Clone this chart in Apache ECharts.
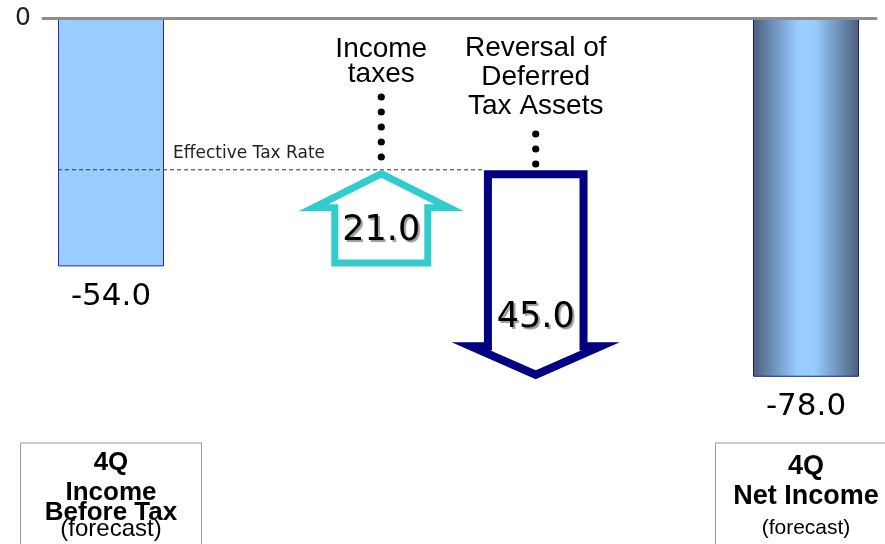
<!DOCTYPE html>
<html><head><meta charset="utf-8">
<script src="https://cdn.jsdelivr.net/npm/echarts@6/dist/echarts.min.js"></script>
<style>html,body{margin:0;padding:0;background:#fff}#chart{width:885px;height:544px}</style>
</head><body><div id="chart"></div>
<script>
// ---------------- data ----------------
const categories = ['4Q Income Before Tax', 'Income taxes', 'Reversal of Deferred Tax Assets', '4Q Net Income'];
const totalValues = [-54.0, -78.0];          // 4Q income before tax, 4Q net income
const stepValues = [21.0, -45.0];            // income taxes, reversal of deferred tax assets
const boxTitles = ['4Q\nIncome\nBefore Tax', '4Q\nNet Income'];
const boxNotes = ['(forecast)', '(forecast)'];
const stepTitles = ['Income\ntaxes', 'Reversal of\nDeferred\nTax Assets'];
const refLineName = 'Effective Tax Rate';
const yTickLabels = ['0'];

// ---------------- layout / style ----------------
const SLOT_COUNT = 19;
const SLOTS = [0, 7, 11, 18];
const Y_MIN = -92.4;
const BAR_W = 106;
const WORD_FONT = '"Liberation Sans", Arial, sans-serif';
const NUM_FONT = '"DejaVu Sans", Verdana, sans-serif';

const xData = Array.from({length: SLOT_COUNT}, () => '');
categories.forEach((c, i) => { xData[SLOTS[i]] = c; });

let running = totalValues[0];
const stepData = stepValues.map((v, i) => {
  const s = running; running += v;
  return [SLOTS[i + 1], s, running, v, i];
});
const refLevel = totalValues[0] + stepValues[0];

const barGradient = new echarts.graphic.LinearGradient(0, 0, 1, 0, [
  {offset: 0, color: '#4a5f7c'}, {offset: 0.42, color: '#99ccff'},
  {offset: 0.58, color: '#99ccff'}, {offset: 1, color: '#4a5f7c'}
]);
const barData = [
  {value: [SLOTS[0], totalValues[0]], itemStyle: {color: '#99CCFF', borderColor: '#2a2aa8', borderWidth: 1}},
  {value: [SLOTS[3], totalValues[1]], itemStyle: {color: barGradient, borderColor: '#1c1c80', borderWidth: 1}}
];

const boxRich = {
  a0: {fontFamily: WORD_FONT, fontWeight: 'bold', fontSize: 26, lineHeight: 40, color: '#000'},
  a1: {fontFamily: WORD_FONT, fontWeight: 'bold', fontSize: 26, lineHeight: 20, color: '#000'},
  a2: {fontFamily: WORD_FONT, fontWeight: 'bold', fontSize: 26, lineHeight: 20, color: '#000'},
  an: {fontFamily: WORD_FONT, fontSize: 24, lineHeight: 12, color: '#000'},
  b0: {fontFamily: WORD_FONT, fontWeight: 'bold', fontSize: 27, lineHeight: 48, color: '#000'},
  b1: {fontFamily: WORD_FONT, fontWeight: 'bold', fontSize: 27, lineHeight: 12, color: '#000'},
  bn: {fontFamily: WORD_FONT, fontSize: 21, lineHeight: 50, color: '#000'}
};

function boxFormatter(value, index) {
  const k = index === SLOTS[0] ? 0 : (index === SLOTS[3] ? 1 : -1);
  if (k < 0) return '';
  const p = k === 0 ? 'a' : 'b';
  const lines = boxTitles[k].split('\n').map((t, j) => '{' + p + Math.min(j, k === 0 ? 2 : 1) + '|' + t + '}');
  lines.push('{' + p + 'n|' + boxNotes[k] + '}');
  return lines.join('\n');
}

function renderStep(params, api) {
  const slot = api.value(0), start = api.value(1), end = api.value(2), v = api.value(3), idx = api.value(4);
  const p0 = api.coord([slot, start]);
  const p1 = api.coord([slot, end]);
  const y0 = api.coord([slot, 0])[1];
  const cx = p0[0], ys = p0[1], ye = p1[1];
  const up = end > start;
  const children = [];
  let pts, color, sw, arrowTop, numY;
  if (up) {
    color = '#33CCCC'; sw = 7;
    const tipY = ye + 4, baseY = ye + 38, botY = ys - 3.5, hs = 46.5, hh = 68;
    pts = [[cx - hs, botY], [cx + hs, botY], [cx + hs, baseY], [cx + hh, baseY], [cx, tipY],
           [cx - hh, baseY], [cx - hs, baseY]];
    arrowTop = ye;
    numY = ys - 35;
  } else {
    color = '#000080'; sw = 8;
    const topY = ys + 4.5, baseY = ye - 30.5, tipY = ye - 2, hs = 47.8, hh = 65;
    pts = [[cx - hs, topY], [cx + hs, topY], [cx + hs, baseY], [cx + hh, baseY], [cx, tipY],
           [cx - hh, baseY], [cx - hs, baseY]];
    arrowTop = ys;
    numY = ye - 59;
  }
  children.push({type: 'polygon', shape: {points: pts},
    style: {fill: '#fff', stroke: color, lineWidth: sw, lineJoin: 'miter', miterLimit: 10}});
  children.push({type: 'text', style: {
    text: Math.abs(v).toFixed(1), x: cx, y: numY, align: 'center', verticalAlign: 'middle',
    fontFamily: NUM_FONT, fontSize: 35, fill: '#000',
    textShadowColor: '#9a9a9a', textShadowOffsetX: 2, textShadowOffsetY: 2, textShadowBlur: 1}});
  const title = stepTitles[idx];
  const nLines = title.split('\n').length;
  const lh = up ? 25 : 29;
  const blockTop = y0 + 16;
  children.push({type: 'text', style: {
    text: title, x: cx, y: blockTop + (up ? 3 : 0), align: 'center', verticalAlign: 'top',
    fontFamily: WORD_FONT, fontSize: 28, lineHeight: lh, fill: '#000'}});
  for (let y = blockTop + nLines * lh + 13; y <= arrowTop - 5; y += 15) {
    children.push({type: 'circle', shape: {cx: cx, cy: y, r: 3.6}, style: {fill: '#000'}});
  }
  return {type: 'group', children: children};
}

function renderRef(params, api) {
  const a = api.coord([api.value(0), api.value(2)]);
  const b = api.coord([api.value(1), api.value(2)]);
  const x1 = a[0] - BAR_W / 2, x2 = b[0] - 51.8;
  return {type: 'group', children: [
    {type: 'line', shape: {x1: x1, y1: a[1], x2: x2, y2: a[1]},
     style: {stroke: '#333', lineWidth: 1, lineDash: [4, 3]}},
    {type: 'text', style: {text: refLineName, x: a[0] + BAR_W / 2 + 9, y: a[1] - 16,
      align: 'left', verticalAlign: 'middle', fontFamily: NUM_FONT, fontSize: 17, fill: '#222'}}
  ]};
}

const chart = echarts.init(document.getElementById('chart'), null, {renderer: 'canvas'});
chart.setOption({
  animation: false,
  backgroundColor: '#fff',
  grid: [
    {left: 91.7, right: 59.7, top: 18, bottom: 101, containLabel: false, outerBoundsMode: 'none'},
    {left: 43, right: 9, top: 18, bottom: 101, containLabel: false, outerBoundsMode: 'none'}
  ],
  xAxis: [
    {type: 'category', gridIndex: 0, data: xData, position: 'bottom',
     axisLine: {show: false, onZero: false}, axisTick: {show: false}, splitLine: {show: false},
     axisLabel: {interval: (i, v) => v !== '', formatter: boxFormatter, margin: 0,
       width: 181, height: 110, padding: 0, borderColor: '#999', borderWidth: 1,
       align: 'center', verticalAlign: 'top', rich: boxRich}},
    {type: 'value', gridIndex: 1, min: 0, max: 1, position: 'top', z: 10,
     axisLine: {show: true, onZero: false, lineStyle: {color: '#8c8c8c', width: 3}},
     axisTick: {show: false}, axisLabel: {show: false}, splitLine: {show: false}}
  ],
  yAxis: [
    {type: 'value', gridIndex: 0, min: Y_MIN, max: 0, show: false},
    {type: 'value', gridIndex: 1, min: Y_MIN, max: 0,
     axisLine: {show: false}, axisTick: {show: false}, splitLine: {show: false},
     axisLabel: {margin: 12, fontFamily: NUM_FONT, fontSize: 25, color: '#222',
       formatter: v => Math.abs(v) < 1e-9 ? yTickLabels[0] : ''}}
  ],
  series: [
    {type: 'bar', xAxisIndex: 0, yAxisIndex: 0, barWidth: BAR_W, clip: false, data: barData,
     label: {show: true, position: 'outside', distance: 15, fontFamily: NUM_FONT, fontSize: 31, color: '#000',
       formatter: p => p.value[1].toFixed(1)}},
    {type: 'custom', xAxisIndex: 0, yAxisIndex: 0, renderItem: renderRef, z: 3, clip: false,
     data: [[SLOTS[0], SLOTS[2], refLevel]], encode: {x: 0, y: 2}},
    {type: 'custom', xAxisIndex: 0, yAxisIndex: 0, renderItem: renderStep, z: 4, clip: false,
     data: stepData, encode: {x: 0, y: [1, 2]}}
  ]
});
</script></body></html>
